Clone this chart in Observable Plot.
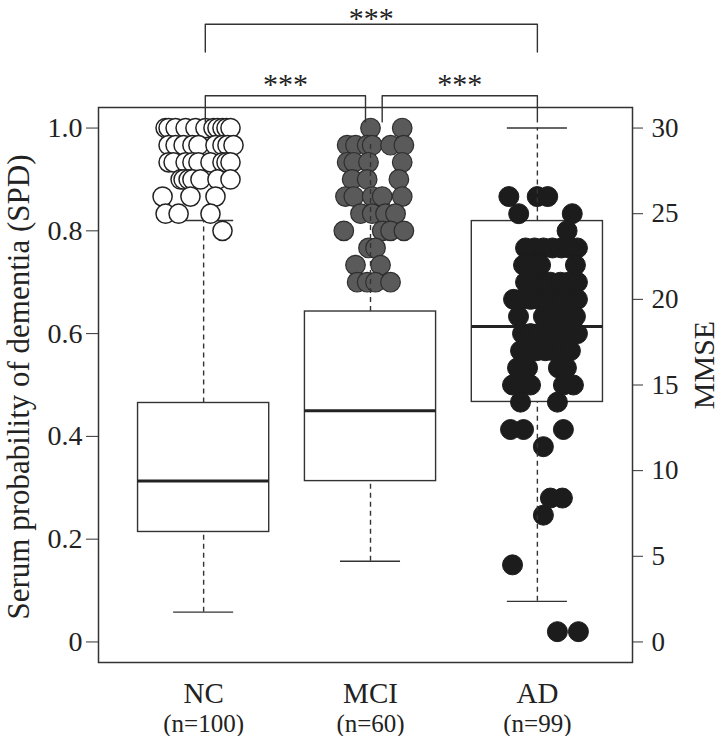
<!DOCTYPE html>
<html><head><meta charset="utf-8">
<script src="https://cdn.jsdelivr.net/npm/d3@7"></script>
<script src="https://cdn.jsdelivr.net/npm/@observablehq/plot@0.6"></script>
<style>html,body{margin:0;padding:0;background:#fff} svg{display:block}</style>
</head><body><div id="chart"></div>
<script>
// ---- data ----
const categories = ["NC", "MCI", "AD"];
const nLabels = ["(n=100)", "(n=60)", "(n=99)"];

// box-plot statistics of SPD
const whiskerLow  = [0.058, 0.157, 0.079];
const quart1      = [0.214, 0.313, 0.467];
const medians     = [0.313, 0.450, 0.614];
const quart3      = [0.465, 0.643, 0.819];
const whiskerHigh = [0.820, 0.972, 1.000];

const spdTicks  = [0, 0.2, 0.4, 0.6, 0.8, 1.0];
const mmseTicks = [0, 5, 10, 15, 20, 25, 30];
const mmseMax = 30;

// MMSE points (value, horizontal jitter) per group
const ncMMSE = [30,30,30,30,30,30,30,30,30,30,30, 29,29,29,29,29,29,29,29,29,
  28,28,28,28,28,28,28,28,28, 27,27,27,27,27,27,27, 26,26,26, 25,25,25, 24];
const ncJitter = [-0.228,-0.210,-0.168,-0.108,-0.049,0.011,0.059,0.083,0.113,0.137,0.161,
  -0.210,-0.168,-0.120,-0.067,-0.031,0.071,0.113,0.143,0.179,
  -0.210,-0.180,-0.108,-0.067,-0.031,0.041,0.113,0.137,0.161,
  -0.138,-0.120,-0.090,-0.067,-0.019,0.083,0.161,
  -0.246,-0.079,0.071, -0.228,-0.150,0.041, 0.113];

const mciMMSE = [30,30, 29,29,29,29,29,29, 28,28,28,28, 27,27,27, 26,26,26,26,26,
  25,25,25,25, 24,24,24,24, 23,23, 22,22, 21,21,21,21];
const mciJitter = [0.000,0.190, -0.140,-0.090,-0.020,0.010,0.120,0.200,
  -0.140,-0.100,-0.012,0.190, -0.110,-0.020,0.170,
  -0.150,-0.100,0.010,0.070,0.190, -0.060,0.010,0.090,0.150,
  -0.160,0.070,0.120,0.200, -0.012,0.030, -0.090,0.060,
  -0.080,-0.020,0.030,0.120];

const adMMSE = [26,26,26, 25,25, 24,
  23,23,23,23,23,23,23, 22,22,22,22,
  21,21,21,21,21,21,21, 20,20,20,20,20,20,20,20,20,
  19,19,19,19,19,19, 18,18,18,18,18,18,18,18,
  17,17,17,17,17,17,17, 16,16,16,16, 15,15,15,15,15, 14,14,
  12.4,12.4,12.4, 11.4, 8.4,8.4, 7.4, 4.5, 0.6,0.6];
const adJitter = [-0.171,-0.001,0.062, -0.112,0.209, 0.178,
  -0.071,-0.017,0.036,0.090,0.144,0.192,0.240,
  -0.083,-0.035,0.019,0.228,
  -0.071,-0.017,0.036,0.078,0.138,0.186,0.240,
  -0.143,-0.095,-0.041,0.007,0.060,0.108,0.150,0.198,0.240,
  -0.113,0.036,0.084,0.132,0.180,0.228,
  -0.089,-0.041,0.007,0.060,0.108,0.156,0.198,0.240,
  -0.101,-0.053,-0.005,0.048,0.096,0.150,0.198,
  -0.119,-0.059,0.126,0.174,
  -0.149,-0.089,-0.041,0.156,0.216,
  -0.101,0.120,
  -0.161,-0.083,0.156, 0.036, 0.078,0.150, 0.036, -0.149, 0.120,0.246];

// significance comparisons (group indices 1..3)
const compFrom  = [1, 2, 1];
const compTo    = [2, 3, 3];
const compLevel = [0, 0, 1];
const compLabel = ["***", "***", "***"];

// ---- derived tables ----
const boxes = categories.map((c, i) => ({
  pos: i + 1, lo: whiskerLow[i], q1: quart1[i], med: medians[i], q3: quart3[i], hi: whiskerHigh[i]
}));
const pts = (mm, jit, g) => mm.map((m, i) => ({x: g + jit[i], y: m / mmseMax}));
const ncPts = pts(ncMMSE, ncJitter, 1);
const mciPts = pts(mciMMSE, mciJitter, 2);
const adPts = pts(adMMSE, adJitter, 3);

const levelTop = [1.063, 1.202], levelFoot = [1.012, 1.148], levelStar = [1.066, 1.194];
const brackets = compFrom.map((f, i) => {
  const t = compTo[i], L = compLevel[i];
  const x1 = f + (f === 2 ? 0.07 : 0.01);
  const x2 = t - (t === 2 ? 0.03 : 0);
  return {id: i, x1, x2, top: levelTop[L], foot: levelFoot[L], star: levelStar[L], label: compLabel[i]};
});
const bracketPath = brackets.flatMap(b => [
  {id: b.id, x: b.x1, y: b.foot}, {id: b.id, x: b.x1, y: b.top},
  {id: b.id, x: b.x2, y: b.top}, {id: b.id, x: b.x2, y: b.foot}
]);

const font = "'Liberation Serif', 'Times New Roman', serif";
const ink = "#333";
const half = 0.393, capHalf = 0.18;

const chart = Plot.plot({
  width: 718, height: 736,
  marginTop: 107, marginBottom: 74, marginLeft: 98, marginRight: 86,
  style: {fontFamily: font, background: "#fff", color: "#222"},
  x: {domain: [0.37, 3.57], axis: null},
  y: {domain: [-0.04, 1.04], axis: null},
  marks: [
    // boxes
    Plot.rect(boxes, {x1: d => d.pos - half, x2: d => d.pos + half, y1: "q1", y2: "q3",
      fill: "none", stroke: ink, strokeWidth: 1.4}),
    Plot.ruleY(boxes, {y: "med", x1: d => d.pos - half, x2: d => d.pos + half, stroke: "#222", strokeWidth: 3}),
    Plot.ruleY(boxes, {y: "hi", x1: d => d.pos - capHalf, x2: d => d.pos + capHalf, stroke: ink, strokeWidth: 1.4}),
    Plot.ruleY(boxes, {y: "lo", x1: d => d.pos - capHalf, x2: d => d.pos + capHalf, stroke: ink, strokeWidth: 1.4}),
    // points
    Plot.dot(ncPts, {x: "x", y: "y", r: 9.6, fill: "#fff", stroke: "#222", strokeWidth: 1.5}),
    Plot.dot(mciPts, {x: "x", y: "y", r: 9.8, fill: "#5a5a5a", stroke: "#2e2e2e", strokeWidth: 1.2}),
    Plot.dot(adPts, {x: "x", y: "y", r: 10, fill: "#1c1c1c", stroke: "#1c1c1c", strokeWidth: 1}),
    // whiskers (dashed)
    Plot.ruleX(boxes, {x: "pos", y1: "q3", y2: "hi", stroke: ink, strokeWidth: 1.4, strokeDasharray: "5,4"}),
    Plot.ruleX(boxes, {x: "pos", y1: "lo", y2: "q1", stroke: ink, strokeWidth: 1.4, strokeDasharray: "5,4"}),
    Plot.frame({stroke: ink, strokeWidth: 1.5}),
    // axes
    Plot.axisY(spdTicks, {anchor: "left", tickSize: 12, tickPadding: 4, fontSize: 28, stroke: ink,
      tickFormat: d => d === 0 ? "0" : d.toFixed(1), label: null}),
    Plot.axisY(mmseTicks.map(t => t / mmseMax), {anchor: "right", tickSize: 10, tickPadding: 9, fontSize: 27, stroke: ink,
      tickFormat: d => String(Math.round(d * mmseMax)), label: null}),
    Plot.text(["Serum probability of dementia (SPD)"], {frameAnchor: "left", textAnchor: "middle", rotate: -90, dx: -70, dy: 2,
      lineAnchor: "bottom", fontSize: 31, fill: "#222"}),
    Plot.text(["MMSE"], {frameAnchor: "right", textAnchor: "middle", rotate: -90, dx: 81, dy: -20,
      lineAnchor: "bottom", fontSize: 30, fill: "#222"}),
    // category labels
    Plot.text(categories, {x: (d, i) => i + 1, frameAnchor: "bottom", dy: 40, lineAnchor: "bottom", fontSize: 29, fill: "#222"}),
    Plot.text(nLabels, {x: (d, i) => i + 1, frameAnchor: "bottom", dy: 69, lineAnchor: "bottom", fontSize: 25, fill: "#222"}),
    // significance brackets
    Plot.line(bracketPath, {x: "x", y: "y", z: "id", stroke: ink, strokeWidth: 1.4, curve: "linear"}),
    Plot.text(brackets, {x: d => (d.x1 + d.x2) / 2, y: "star", text: "label", lineAnchor: "bottom", fontSize: 30, fill: "#222"})
  ]
});
document.getElementById("chart").appendChild(chart);
</script></body></html>
